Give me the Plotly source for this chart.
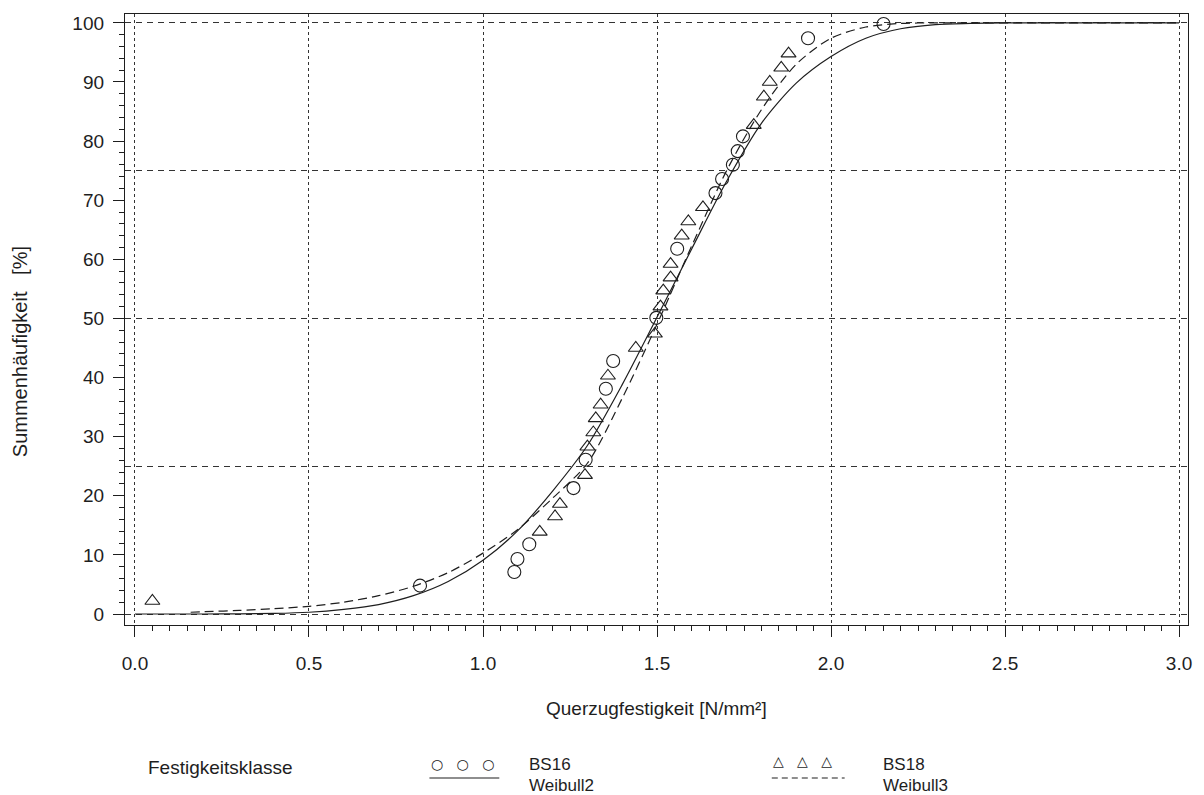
import plotly.graph_objects as go

# ---------------- data ----------------
bs16_x = [0.819, 1.090, 1.099, 1.133, 1.260, 1.295, 1.353, 1.374, 1.498, 1.558,
          1.668, 1.687, 1.718, 1.732, 1.747, 1.934, 2.151]
bs16_y = [4.8, 7.1, 9.3, 11.8, 21.3, 26.1, 38.1, 42.8, 50.1, 61.8,
          71.2, 73.6, 76.0, 78.3, 80.8, 97.4, 99.8]

bs18_x = [0.050, 1.163, 1.207, 1.221, 1.293, 1.300, 1.317, 1.324, 1.338, 1.359,
          1.439, 1.494, 1.510, 1.518, 1.539, 1.539, 1.571, 1.590, 1.632, 1.778,
          1.807, 1.824, 1.857, 1.878]
bs18_y = [2.2, 13.9, 16.5, 18.6, 23.5, 28.3, 30.7, 33.1, 35.4, 40.3,
          45.0, 47.4, 52.0, 54.7, 56.9, 59.2, 64.0, 66.4, 68.8, 82.7,
          87.5, 90.0, 92.4, 94.8]

weibull2_x = [0.0, 0.1, 0.2, 0.3, 0.4, 0.5, 0.6, 0.7, 0.8, 0.9, 1.0, 1.1, 1.2, 1.3,
              1.4, 1.5, 1.6, 1.7, 1.8, 1.9, 2.0, 2.1, 2.2, 2.3, 2.4, 2.5, 2.6, 2.8, 3.0]
weibull2_y = [0.0, 0.0, 0.0, 0.03, 0.1, 0.3, 0.8, 1.6, 3.1, 5.5, 9.1, 14.1, 20.8, 28.5,
              38.8, 50.2, 61.8, 73.2, 83.0, 89.8, 94.3, 97.4, 99.0, 99.7, 99.9, 100, 100, 100, 100]

weibull3_x = [0.16, 0.2, 0.3, 0.4, 0.5, 0.6, 0.7, 0.8, 0.9, 1.0, 1.1, 1.2, 1.3, 1.4,
              1.5, 1.6, 1.7, 1.8, 1.9, 2.0, 2.1, 2.2, 2.3, 2.4, 2.6, 2.8, 3.0]
weibull3_y = [0.3, 0.4, 0.6, 0.9, 1.3, 2.0, 3.1, 4.7, 7.0, 10.3, 14.3, 19.6, 25.5, 36.5,
              49.0, 62.3, 75.0, 85.3, 93.0, 97.4, 99.3, 99.9, 100, 100, 100, 100, 100]

x_ticks = [0.0, 0.5, 1.0, 1.5, 2.0, 2.5, 3.0]
y_ticks = [0, 10, 20, 30, 40, 50, 60, 70, 80, 90, 100]
y_grid = [0, 25, 50, 75, 100]

# ---------------- figure ----------------
INK = "#1e1e1e"
GRID = "#333333"
FONT = "Liberation Sans, Arial, sans-serif"
SYMFONT = "DejaVu Sans, sans-serif"

W, H = 1204, 795
PL, PR, PT, PB = 125, 1190, 14, 625


def fx(px):
    return (px - PL) / (PR - PL)


def fy(py):
    return (PB - py) / (PB - PT)


fig = go.Figure()

fig.add_trace(go.Scatter(x=weibull2_x, y=weibull2_y, mode="lines", name="Weibull2",
                         line=dict(color=INK, width=1.2, shape="spline", smoothing=0.8),
                         yaxis="y2"))
fig.add_trace(go.Scatter(x=weibull3_x, y=weibull3_y, mode="lines", name="Weibull3",
                         line=dict(color=INK, width=1.2, dash="9px,5px", shape="spline",
                                   smoothing=0.8),
                         yaxis="y2"))
fig.add_trace(go.Scatter(x=bs16_x, y=bs16_y, mode="markers", name="BS16",
                         marker=dict(symbol="circle-open", size=13,
                                     line=dict(color=INK, width=1.1), color=INK)))
fig.add_trace(go.Scatter(x=bs18_x, y=bs18_y, mode="markers", name="BS18",
                         marker=dict(symbol="triangle-up-open", size=13,
                                     line=dict(color=INK, width=1.1), color=INK)))

xr = [-0.0287, 3.0258]
yr = [-1.86, 101.5]
TICKSIZE = 19

fig.update_layout(
    width=W, height=H, autosize=False,
    margin=dict(l=PL, r=W - PR, t=PT, b=H - PB, pad=0),
    paper_bgcolor="white", plot_bgcolor="white",
    font=dict(family=FONT, color=INK, size=TICKSIZE),
    showlegend=False,
    xaxis=dict(
        range=xr, tickmode="array", tickvals=x_ticks, tickformat=".1f",
        ticks="outside", ticklen=11, tickwidth=1.2, tickcolor=INK,
        showline=True, linecolor=INK, linewidth=1.3, mirror=True,
        showgrid=True, gridcolor=GRID, gridwidth=1, griddash="3px,3px",
        zeroline=False, ticklabelstandoff=10,
        tickfont=dict(size=TICKSIZE, family=FONT, color=INK),
        minor=dict(dtick=0.05, tick0=0, ticks="outside", ticklen=5,
                   tickcolor=INK, tickwidth=1, showgrid=False),
    ),
    yaxis=dict(
        range=yr, tickmode="array", tickvals=y_ticks,
        ticks="outside", ticklen=11, tickwidth=1.2, tickcolor=INK,
        showline=True, linecolor=INK, linewidth=1.3, mirror=True,
        showgrid=False, zeroline=False, ticklabelstandoff=5,
        tickfont=dict(size=TICKSIZE, family=FONT, color=INK),
        minor=dict(dtick=2, tick0=0, ticks="outside", ticklen=5,
                   tickcolor=INK, tickwidth=1, showgrid=False),
    ),
    yaxis2=dict(
        range=yr, overlaying="y", side="left", tickmode="array", tickvals=y_grid,
        showticklabels=False, ticks="", showline=False, zeroline=False,
        showgrid=True, gridcolor=GRID, gridwidth=1, griddash="6px,5px",
    ),
)

ann = [
    dict(text="Querzugfestigkeit [N/mm²]", x=fx(657), y=fy(708), size=19, xa="center", f=FONT),
    dict(text="Festigkeitsklasse", x=fx(146), y=fy(767), size=19, xa="left", f=FONT),
    dict(text="○   ○   ○", x=fx(430), y=fy(764), size=14, xa="left", f=SYMFONT),
    dict(text="BS16", x=fx(528), y=fy(764), size=17, xa="left", f=FONT),
    dict(text="Weibull2", x=fx(528), y=fy(786), size=17, xa="left", f=FONT),
    dict(text="△   △   △", x=fx(772), y=fy(761), size=14, xa="left", f=SYMFONT),
    dict(text="BS18", x=fx(882), y=fy(764), size=17, xa="left", f=FONT),
    dict(text="Weibull3", x=fx(882), y=fy(786), size=17, xa="left", f=FONT),
]
for a in ann:
    fig.add_annotation(text=a["text"], x=a["x"], y=a["y"], xref="paper", yref="paper",
                       xanchor=a["xa"], yanchor="middle", showarrow=False,
                       font=dict(size=a["size"], family=a["f"], color=INK))

fig.add_annotation(text="Summenhäufigkeit   [%]", x=fx(20), y=fy(352), xref="paper",
                   yref="paper", textangle=-90, showarrow=False, xanchor="center",
                   yanchor="middle", font=dict(size=20, family=FONT, color=INK))

fig.add_shape(type="line", xref="paper", yref="paper", x0=fx(430), x1=fx(500),
              y0=fy(778), y1=fy(778), line=dict(color=INK, width=1.2))
fig.add_shape(type="line", xref="paper", yref="paper", x0=fx(773), x1=fx(846),
              y0=fy(778), y1=fy(778), line=dict(color=INK, width=1.2, dash="6px,4px"))

fig.write_html("out.html", config={"displayModeBar": False},
               post_script="document.body.style.margin='0';")
